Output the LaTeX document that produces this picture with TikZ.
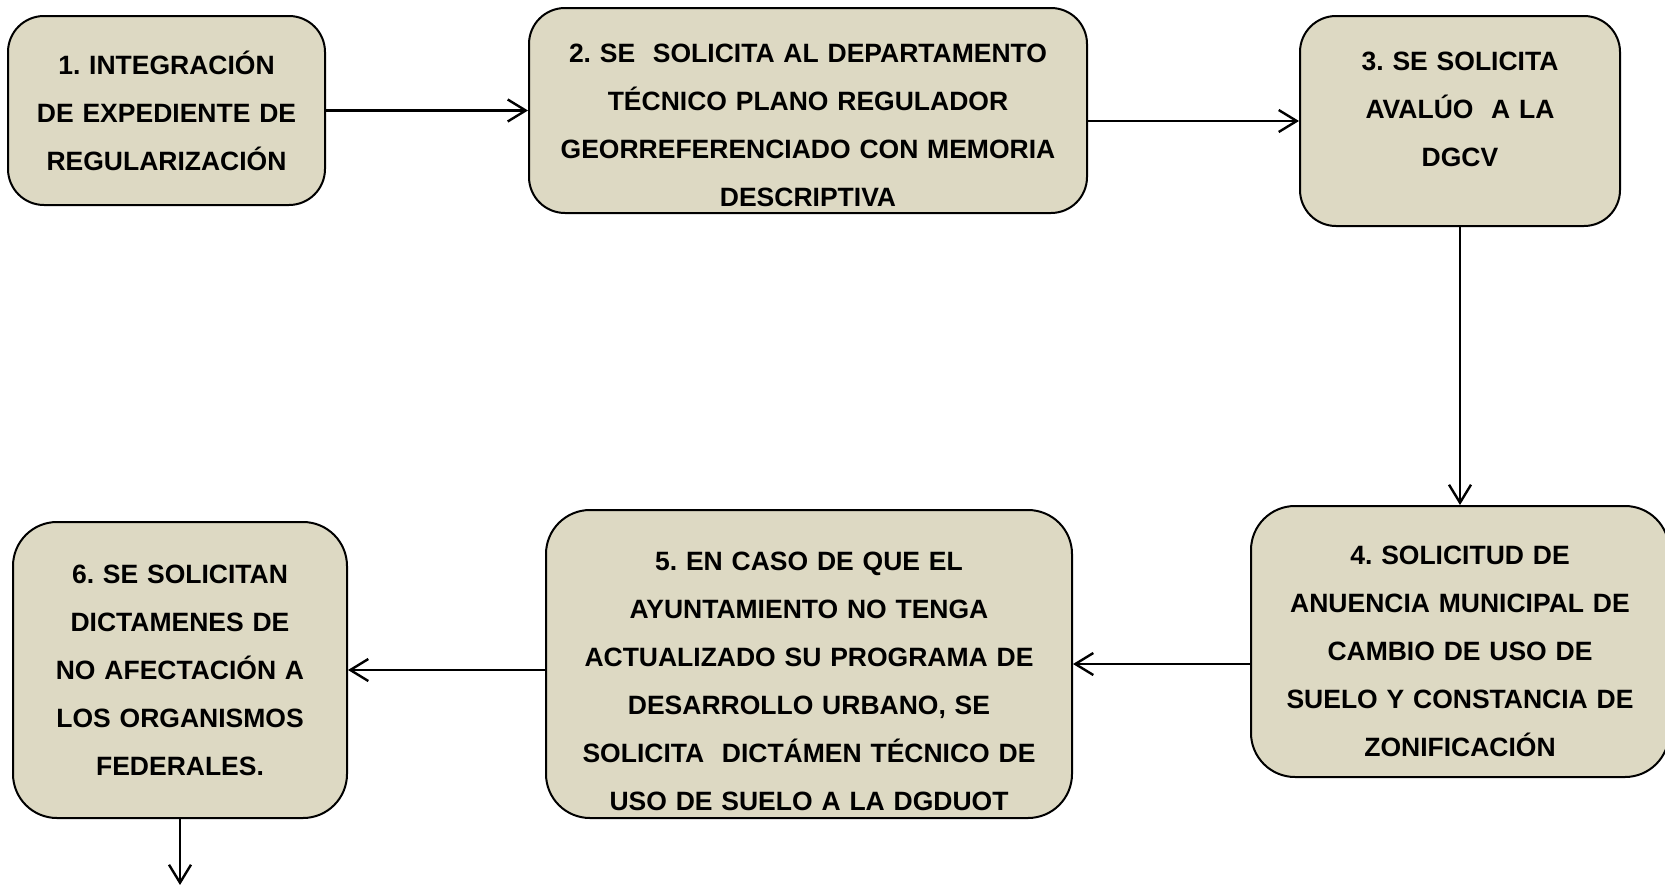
\documentclass[tikz,border=0pt]{standalone}
\usepackage{fontspec}
\setmainfont{Liberation Sans}
\usepackage{tikz}
\usetikzlibrary{positioning,arrows.meta}
\definecolor{boxfill}{RGB}{221,217,195}
\newcommand{\padtop}[1]{\rule{0pt}{#1}}
\newcommand{\padbot}[1]{\rule[-#1]{0pt}{#1}}
\frenchspacing
\tikzset{block/.style={draw,line width=1pt,fill=boxfill,rounded corners=18pt,align=center,inner xsep=4pt,inner ysep=2pt,font=\bfseries\fontsize{13.25}{24}\selectfont},
         line/.style={-{Straight Barb[length=9pt,width=11pt]},line width=1.2pt}
}

\begin{document}
\begin{tikzpicture}
  \useasboundingbox (0,0) rectangle (832.5pt,-442pt);
  \node[block,minimum width=158.5pt,minimum height=94.5pt,text width=150pt] (a) at (83.25pt,-55.25pt) {1. INTEGRACIÓN\\DE EXPEDIENTE DE\\REGULARIZACIÓN};
  \node[block,right=101pt of a,minimum width=279pt,minimum height=102.5pt,text width=270pt] (b) {\padtop{24.5pt}2. SE~~SOLICITA AL DEPARTAMENTO\\TÉCNICO PLANO REGULADOR\\GEORREFERENCIADO CON MEMORIA\\DESCRIPTIVA};
  \node[block,right=105.5pt of b,yshift=-5.25pt,minimum width=160pt,minimum height=105pt,text width=152pt] (c) {3. SE SOLICITA\\AVALÚO~~A LA\\DGCV\padbot{11.6pt}};
  \node[block,below=139pt of c,minimum width=209pt,minimum height=135.5pt,text width=201pt,rounded corners=22pt] (d) {\padtop{18.9pt}4. SOLICITUD DE\\ANUENCIA MUNICIPAL DE\\CAMBIO DE USO DE\\SUELO Y CONSTANCIA DE\\ZONIFICACIÓN};
  \node[block,left=88.5pt of d,yshift=-11.25pt,minimum width=263pt,minimum height=154pt,text width=255pt,rounded corners=22pt] (e) {\padtop{26.5pt}5. EN CASO DE QUE EL\\AYUNTAMIENTO NO TENGA\\ACTUALIZADO SU PROGRAMA DE\\DESARROLLO URBANO, SE\\SOLICITA~~DICTÁMEN TÉCNICO DE\\USO DE SUELO A LA DGDUOT};
  \node[block,left=98.5pt of e,yshift=-3pt,minimum width=167pt,minimum height=148pt,text width=159pt,rounded corners=22pt] (f) {6. SE SOLICITAN\\DICTAMENES DE\\NO AFECTACIÓN A\\LOS ORGANISMOS\\FEDERALES.};
  \coordinate[below=33pt of f.south] (g);
  \draw[line] (a) -- (a -| b.west);
  \draw[line] (c -| b.east) -- (c);
  \draw[line] (c) -- (d);
  \draw[line] (e -| d.west) -- (e);
  \draw[line] (f -| e.west) -- (f);
  \draw[line] (f) -- (g);
\end{tikzpicture}
\end{document}
